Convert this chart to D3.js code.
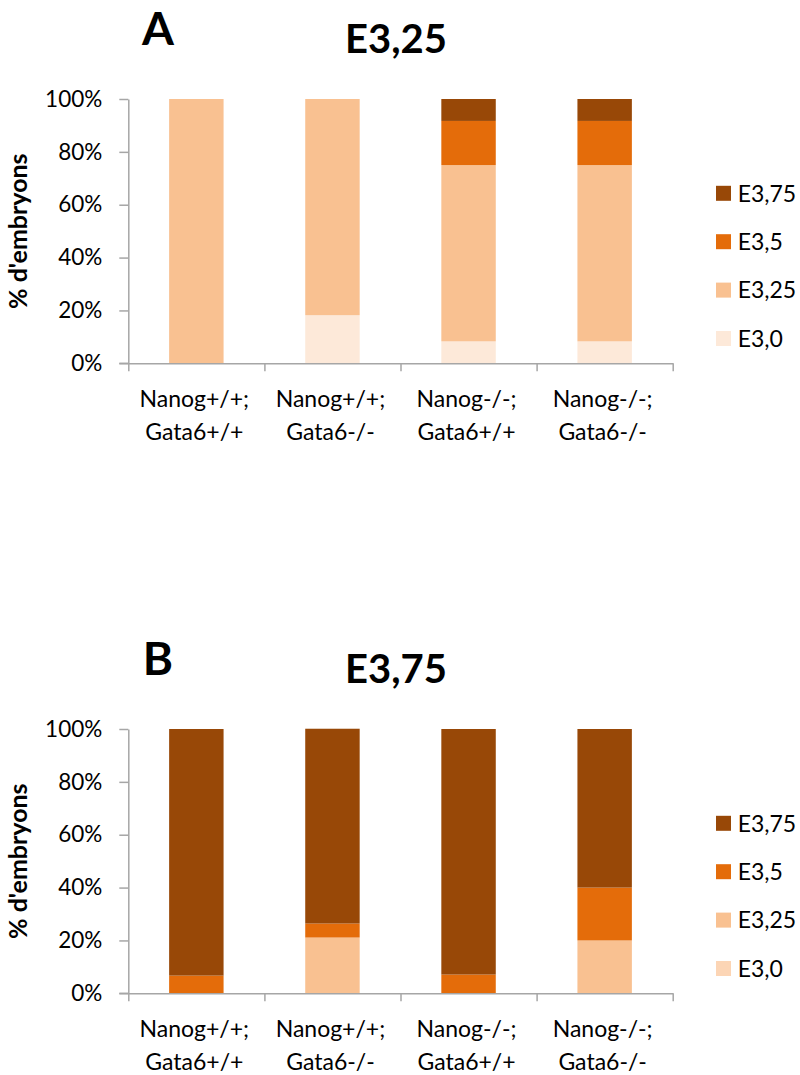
<!DOCTYPE html>
<html>
<head>
<meta charset="utf-8">
<script src="https://cdn.jsdelivr.net/npm/d3@7"></script>
<style>
  html, body { margin: 0; padding: 0; background: #fff; }
  svg { display: block; }
  text { font-family: Lato, "Open Sans", sans-serif; fill: #000; }
</style>
</head>
<body>
<svg id="chart" width="800" height="1075"></svg>
<script>
// ---------- data ----------
const categories = ["Nanog+/+;\nGata6+/+", "Nanog+/+;\nGata6-/-", "Nanog-/-;\nGata6+/+", "Nanog-/-;\nGata6-/-"];
const seriesNames = ["E3,0", "E3,25", "E3,5", "E3,75"];
const yTicks = [0, 20, 40, 60, 80, 100];
const yTickLabels = ["0%", "20%", "40%", "60%", "80%", "100%"];
const yAxisTitle = "% d'embryons";

// Panel A : E3,25
const panelATitle = "E3,25";
const panelALetter = "A";
const a_E30  = [0, 18.2, 8.3, 8.3];
const a_E325 = [100, 81.8, 66.7, 66.7];
const a_E35  = [0, 0, 16.7, 16.7];
const a_E375 = [0, 0, 8.3, 8.3];

// Panel B : E3,75
const panelBTitle = "E3,75";
const panelBLetter = "B";
const b_E30  = [0, 0, 0, 0];
const b_E325 = [0, 21.1, 0, 20];
const b_E35  = [6.7, 5.3, 7.1, 20];
const b_E375 = [93.3, 73.7, 92.9, 60];

const colorsA = ["#fde9d9", "#f9c191", "#e46c0a", "#984807"];
const colorsB = ["#fcd5b5", "#f9c191", "#e46c0a", "#984807"];

// ---------- drawing ----------
const svg = d3.select("#chart");
const plotLeft = 128.3, plotRight = 672.7;
const axisColor = "#a6a6a6";

function drawPanel(offsetY, letter, title, seriesValues, colors) {
  const g = svg.append("g").attr("transform", `translate(0,${offsetY})`);
  const top = 99, bottom = 363.3;

  const rows = categories.map((c, i) => {
    const r = { cat: c };
    seriesNames.forEach((s, k) => { r[s] = seriesValues[k][i]; });
    return r;
  });
  const stacked = d3.stack().keys(seriesNames)(rows);

  const x = d3.scaleBand().domain(categories).range([plotLeft, plotRight])
    .paddingInner(0.6).paddingOuter(0.3);
  const y = d3.scaleLinear().domain([0, 100]).range([bottom, top]);
  const color = d3.scaleOrdinal().domain(seriesNames).range(colors);

  // bars
  g.selectAll("g.layer").data(stacked).join("g")
    .attr("class", "layer")
    .attr("fill", d => color(d.key))
    .selectAll("rect").data(d => d).join("rect")
    .attr("x", d => x(d.data.cat))
    .attr("width", x.bandwidth())
    .attr("y", d => y(d[1]))
    .attr("height", d => Math.max(0, y(d[0]) - y(d[1])));

  // y axis
  const yAxis = d3.axisLeft(y).tickValues(yTicks)
    .tickFormat((d, i) => yTickLabels[i])
    .tickSize(9).tickSizeOuter(0).tickPadding(17);
  const ya = g.append("g").attr("transform", `translate(${plotLeft},0)`).call(yAxis);
  ya.selectAll("path, line").attr("stroke", axisColor).attr("stroke-width", 1.5);
  ya.selectAll("text").attr("font-size", 22.5).attr("font-family", "Lato, sans-serif").attr("fill", "#000");

  // x axis with ticks at category boundaries
  const xb = d3.scaleLinear().domain([0, categories.length]).range([plotLeft, plotRight]);
  const xAxis = d3.axisBottom(xb).tickValues(d3.range(categories.length + 1))
    .tickFormat("").tickSize(8).tickSizeOuter(0);
  const xa = g.append("g").attr("transform", `translate(0,${bottom})`).call(xAxis);
  xa.selectAll("path, line").attr("stroke", axisColor).attr("stroke-width", 1.5);
  g.append("line").attr("x1", plotLeft - 9).attr("x2", plotLeft)
    .attr("y1", bottom).attr("y2", bottom).attr("stroke", axisColor).attr("stroke-width", 1.5);

  // category labels
  const lab = g.selectAll("text.cat").data(categories).join("text")
    .attr("class", "cat")
    .attr("text-anchor", "middle")
    .attr("font-size", 23)
    .attr("x", d => x(d) + x.bandwidth() / 2 - 2);
  lab.selectAll("tspan").data(d => d.split("\n")).join("tspan")
    .attr("x", function () { return d3.select(this.parentNode).attr("x"); })
    .attr("y", (d, i) => 407 + i * 33)
    .text(d => d);

  // y axis title
  g.append("text")
    .attr("transform", `translate(27,${(top + bottom) / 2}) rotate(-90)`)
    .attr("text-anchor", "middle")
    .attr("font-size", 25)
    .attr("font-weight", "bold")
    .text(yAxisTitle);

  // titles
  g.append("text").attr("x", 396).attr("y", 53).attr("text-anchor", "middle")
    .attr("font-size", 40).attr("font-weight", "bold").text(title);
  g.append("text").attr("x", 158).attr("y", 45).attr("text-anchor", "middle")
    .attr("font-size", 46).attr("font-weight", "bold").text(letter);

  // legend
  const legendOrder = seriesNames.slice().reverse();
  const leg = g.selectAll("g.leg").data(legendOrder).join("g")
    .attr("class", "leg")
    .attr("transform", (d, i) => `translate(716,${193.3 + i * 48.4})`);
  leg.append("rect").attr("x", 0).attr("y", -7.5).attr("width", 15).attr("height", 15)
    .attr("fill", d => color(d));
  leg.append("text").attr("x", 21.7).attr("y", 0).attr("dy", "0.36em")
    .attr("font-size", 23).text(d => d);
}

drawPanel(0, panelALetter, panelATitle, [a_E30, a_E325, a_E35, a_E375], colorsA);
drawPanel(630, panelBLetter, panelBTitle, [b_E30, b_E325, b_E35, b_E375], colorsB);
</script>
</body>
</html>
